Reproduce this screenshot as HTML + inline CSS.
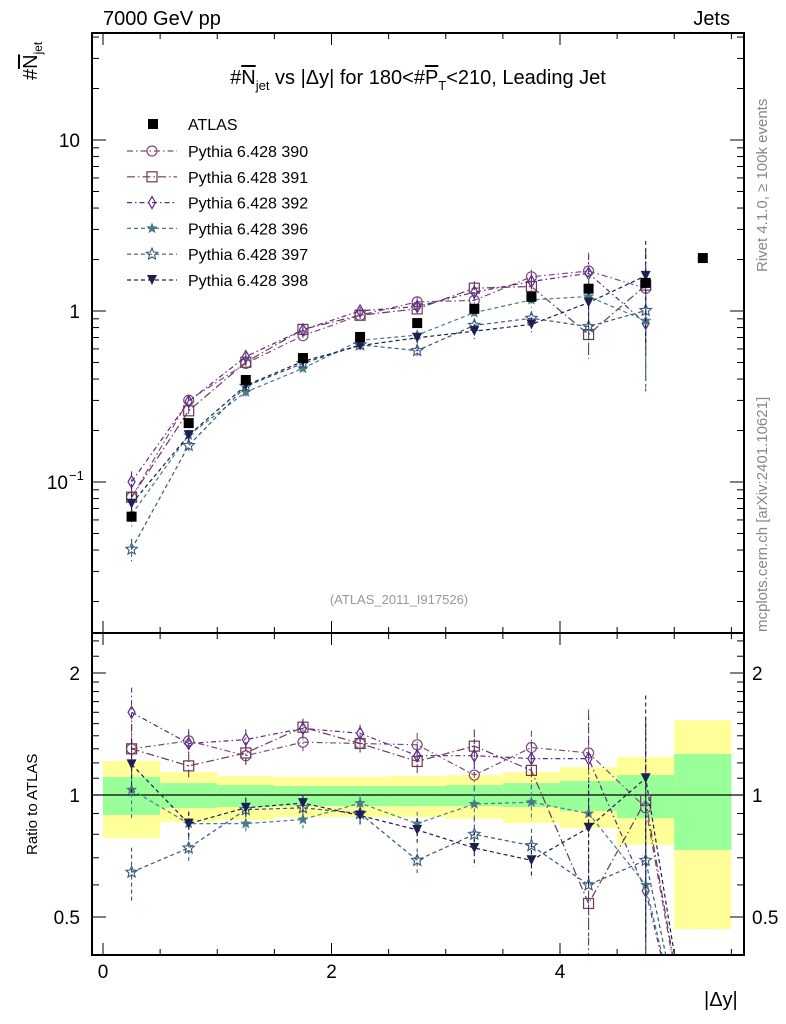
<!DOCTYPE html>
<html><head><meta charset="utf-8"><style>
html,body{margin:0;padding:0;background:#fff;width:786px;height:1024px;overflow:hidden;}
svg{font-family:"Liberation Sans",sans-serif;display:block;}
</style></head><body>
<svg id="c" width="786" height="1024" viewBox="0 0 786 1024" xmlns="http://www.w3.org/2000/svg">
<text x="103" y="25" font-size="20">7000 GeV pp</text>
<text x="730" y="25" font-size="20" text-anchor="end">Jets</text>
<text x="418" y="84" font-size="20" text-anchor="middle">#<tspan text-decoration="overline">N</tspan><tspan font-size="13" dy="6">jet</tspan><tspan dy="-6"> vs |Δy| for 180&lt;#</tspan><tspan text-decoration="overline">P</tspan><tspan font-size="13" dy="6">T</tspan><tspan dy="-6">&lt;210, Leading Jet</tspan></text>
<text transform="translate(37,80) rotate(-90)" font-size="20">#<tspan text-decoration="overline">N</tspan><tspan font-size="12" dy="5">jet</tspan></text>
<text transform="translate(37,855) rotate(-90)" font-size="15">Ratio to ATLAS</text>
<text x="704" y="1006" font-size="20">|Δy|</text>
<text transform="translate(767,272) rotate(-90)" font-size="15" fill="#888">Rivet 4.1.0, ≥ 100k events</text>
<text transform="translate(767,632) rotate(-90)" font-size="15" fill="#888">mcplots.cern.ch [arXiv:2401.10621]</text>
<text x="399" y="604" font-size="13" fill="#999" text-anchor="middle">(ATLAS_2011_I917526)</text>
</svg>
<script>
const binEdges=[0,0.5,1,1.5,2,2.5,3,3.5,4,4.5,5,5.5];
const binCenters=[0.25,0.75,1.25,1.75,2.25,2.75,3.25,3.75,4.25,4.75,5.25];
const atlasValues=[0.0627,0.221,0.395,0.531,0.705,0.85,1.03,1.21,1.35,1.46,2.04];
const bandYellowUp=[1.213,1.139,1.114,1.108,1.108,1.114,1.12,1.139,1.172,1.241,1.53];
const bandYellowDn=[0.783,0.858,0.868,0.882,0.882,0.882,0.873,0.853,0.829,0.753,0.467];
const bandGreenUp=[1.108,1.070,1.058,1.052,1.052,1.052,1.058,1.070,1.083,1.12,1.262];
const bandGreenDn=[0.893,0.929,0.934,0.939,0.939,0.939,0.939,0.934,0.913,0.877,0.732];
const ratio390=[1.30,1.36,1.25,1.35,1.34,1.33,1.12,1.31,1.27,0.93,0.15];
const ratio391=[1.30,1.18,1.27,1.47,1.34,1.21,1.32,1.15,0.54,0.97,0.15];
const ratio392=[1.60,1.34,1.37,1.46,1.42,1.25,1.25,1.23,1.23,0.58,0.15];
const ratio396=[1.03,0.85,0.85,0.87,0.955,0.85,0.95,0.96,0.90,0.60,0.15];
const ratio397=[0.645,0.74,0.92,0.93,0.90,0.69,0.80,0.75,0.60,0.69,0.15];
const ratio398=[1.19,0.85,0.93,0.955,0.89,0.82,0.74,0.69,0.83,1.10,0.15];
const relErr=[0.15,0.07,0.06,0.05,0.05,0.07,0.1,0.1,0.28,0.6];
const mainTickLabels=["10","1"];
const ratioTickLabels=["2","1","0.5"];
const xTickLabels=["0","2","4"];

const S=document.getElementById('c');
const NS="http://www.w3.org/2000/svg";
const L=92,R=744,T=33,MB=633,RB=955;
function X(v){return 103+v*114.25;}
function YM(v){return 311-171*Math.log10(v);}
function YR(v){return 795-122*Math.log2(v);}
function el(t,a,p){const e=document.createElementNS(NS,t);for(const k in a)e.setAttribute(k,a[k]);(p||S).appendChild(e);return e;}
function txt(s,a,p){const e=el('text',a,p);e.textContent=s;return e;}
// clip a polyline's points to y<=ymax (cut segments at boundary)
function clipPts(pts,ymax){
  const out=[];
  for(let i=0;i<pts.length;i++){
    const [x,y]=pts[i];
    if(y<=ymax){out.push([x,y]);continue;}
    if(i>0&&pts[i-1][1]<=ymax){const [px,py]=pts[i-1];const t=(ymax-py)/(y-py);out.push([px+t*(x-px),ymax]);}
    break;
  }
  return out.map(p=>p[0].toFixed(1)+','+p[1].toFixed(1)).join(' ');
}

const defs=el('defs',{});
const cm=el('clipPath',{id:'cm'},defs);el('rect',{x:L,y:T,width:R-L,height:MB-T},cm);
const cr=el('clipPath',{id:'cr'},defs);el('rect',{x:L,y:MB,width:R-L,height:RB-MB},cr);

const gb=el('g',{'clip-path':'url(#cr)'});

for(let i=0;i<atlasValues.length;i++){
  const x0=X(binEdges[i]),x1=X(binEdges[i+1]);
  const y=el('rect',{x:x0,y:YR(bandYellowUp[i]),width:x1-x0,height:YR(bandYellowDn[i])-YR(bandYellowUp[i]),fill:'#ffff99'},gb);
  
  const g=el('rect',{x:x0,y:YR(bandGreenUp[i]),width:x1-x0,height:YR(bandGreenDn[i])-YR(bandGreenUp[i]),fill:'#99ff99'},gb);
  
}
el('line',{x1:L,x2:R,y1:YR(1),y2:YR(1),stroke:'#000','stroke-width':1.2},gb);

const series=[
 {n:'390',r:ratio390,c:'#7d4b7d',d:'6 3 1.5 3',m:'circle'},
 {n:'391',r:ratio391,c:'#6b3a55',d:'8 3 1.5 3',m:'square'},
 {n:'392',r:ratio392,c:'#5b2b86',d:'5 3 1.5 3',m:'diamond'},
 {n:'396',r:ratio396,c:'#4b7b86',d:'4 3',m:'star-s'},
 {n:'397',r:ratio397,c:'#35587a',d:'4 3',m:'star'},
 {n:'398',r:ratio398,c:'#1e1e52',d:'4 3',m:'tri'}
];
function marker(m,x,y,c,p){
  let e;
  if(m==='circle')e=el('circle',{cx:x,cy:y,r:5,fill:'none',stroke:c,'stroke-width':1.2},p);
  else if(m==='square')e=el('rect',{x:x-5,y:y-5,width:10,height:10,fill:'none',stroke:c,'stroke-width':1.2},p);
  else if(m==='diamond')e=el('polygon',{points:`${x},${y-6} ${x+3.5},${y} ${x},${y+6} ${x-3.5},${y}`,fill:'none',stroke:c,'stroke-width':1.2},p);
  else if(m==='tri')e=el('polygon',{points:`${x-5},${y-5} ${x+5},${y-5} ${x},${y+5}`,fill:c},p);
  else if(m==='sq-fill')e=el('rect',{x:x-5,y:y-5,width:10,height:10,fill:c},p);
  else{const s=m==='star'?6:4.5;let pts=[];for(let k=0;k<10;k++){const a=-Math.PI/2+k*Math.PI/5,rr=k%2?s*0.45:s;pts.push((x+rr*Math.cos(a)).toFixed(1)+','+(y+rr*Math.sin(a)).toFixed(1));}
    e=el('polygon',{points:pts.join(' '),fill:m==='star'?'none':c,stroke:c,'stroke-width':1.1},p);}
  return e;
}
const gm=el('g',{'clip-path':'url(#cm)'});

series.forEach(s=>{
  const g=el('g',{},gm);
  
  const vals=s.r.slice(0,10).map((r,i)=>r*atlasValues[i]);
  el('polyline',{points:clipPts(vals.map((v,i)=>[X(binCenters[i]),YM(v)]),MB),fill:'none',stroke:s.c,'stroke-width':1.2,'stroke-dasharray':s.d},g);
  vals.forEach((v,i)=>{
    const e=relErr[i];
    const ylo=e>=1?MB:Math.min(YM(v*(1-e)),MB);
    el('line',{x1:X(binCenters[i]),x2:X(binCenters[i]),y1:Math.max(YM(v*(1+e)),T),y2:ylo,stroke:s.c,'stroke-width':1.1,'stroke-dasharray':s.d},g);
    const mk=marker(s.m,X(binCenters[i]),YM(v),s.c,g);
    
    
  });
});
atlasValues.forEach((v,i)=>{
  const mk=marker('sq-fill',X(binCenters[i]),YM(v),'#000',gm);
  
  
});
const gr=el('g',{'clip-path':'url(#cr)'});

series.forEach(s=>{
  const g=el('g',{},gr);
  
  el('polyline',{points:clipPts(s.r.map((v,i)=>[X(binCenters[i]),YR(v)]),RB),fill:'none',stroke:s.c,'stroke-width':1.2,'stroke-dasharray':s.d},g);
  s.r.slice(0,10).forEach((v,i)=>{
    const e=relErr[i];
    const ylo=e>=1?RB:Math.min(YR(v*(1-e)),RB);
    el('line',{x1:X(binCenters[i]),x2:X(binCenters[i]),y1:Math.max(YR(v*(1+e)),MB),y2:ylo,stroke:s.c,'stroke-width':1.1,'stroke-dasharray':s.d},g);
    const mk=marker(s.m,X(binCenters[i]),YR(v),s.c,g);
    
    
  });
});

el('rect',{x:L,y:T,width:R-L,height:MB-T,fill:'none',stroke:'#000','stroke-width':2});
el('rect',{x:L,y:MB,width:R-L,height:RB-MB,fill:'none',stroke:'#000','stroke-width':2});
for(let v=0;v<=5.5;v+=0.5){
  const x=X(v),len=(v%2===0)?12:6;
  [[T,1],[MB,-1],[MB,1],[RB,-1]].forEach(([y,d])=>el('line',{x1:x,x2:x,y1:y,y2:y+d*len,stroke:'#000','stroke-width':1}));
}
xTickLabels.forEach((t,i)=>{const e=txt(t,{x:X(i*2),y:978,'font-size':19,'text-anchor':'middle'});});
for(let d=-2;d<=1;d++)for(let k=1;k<=9;k++){const v=k*Math.pow(10,d);const y=YM(v);if(y<T||y>MB)continue;const len=k===1?14:7;
  el('line',{x1:L,x2:L+len,y1:y,y2:y,stroke:'#000'});el('line',{x1:R,x2:R-len,y1:y,y2:y,stroke:'#000'});}
mainTickLabels.forEach((t,i)=>{const e=txt(t,{x:80,y:YM(Math.pow(10,1-i))+7,'font-size':19,'text-anchor':'end'});});
const tm=txt('10',{x:68,y:YM(0.1)+7,'font-size':19,'text-anchor':'end'});
txt('−1',{x:69,y:YM(0.1)-2,'font-size':13});
[0.5,0.6,0.7,0.8,0.9,1,1.1,1.2,1.3,1.4,1.5,1.6,1.7,1.8,1.9,2,2.2,2.4].forEach(v=>{const y=YR(v);if(y<MB||y>RB)return;const len=(v===0.5||v===1||v===2)?14:7;
  el('line',{x1:L,x2:L+len,y1:y,y2:y,stroke:'#000'});el('line',{x1:R,x2:R-len,y1:y,y2:y,stroke:'#000'});});
ratioTickLabels.forEach((t,i)=>{const v=[2,1,0.5][i];
  const a=txt(t,{x:80,y:YR(v)+7,'font-size':19,'text-anchor':'end'});
  const b=txt(t,{x:752,y:YR(v)+7,'font-size':19});});

const lg=el('g',{});
const le0=el('g',{},lg);
marker('sq-fill',153,124,'#000',le0);txt('ATLAS',{x:188,y:130,'font-size':16},le0);
series.forEach((s,i)=>{const y=151+i*25.8;const g=el('g',{},lg);
  
  el('line',{x1:127,x2:177,y1:y,y2:y,stroke:s.c,'stroke-width':1.2,'stroke-dasharray':s.d},g);
  marker(s.m,152,y,s.c,g);txt('Pythia 6.428 '+s.n,{x:188,y:y+6,'font-size':16},g);});
</script>
</body></html>
